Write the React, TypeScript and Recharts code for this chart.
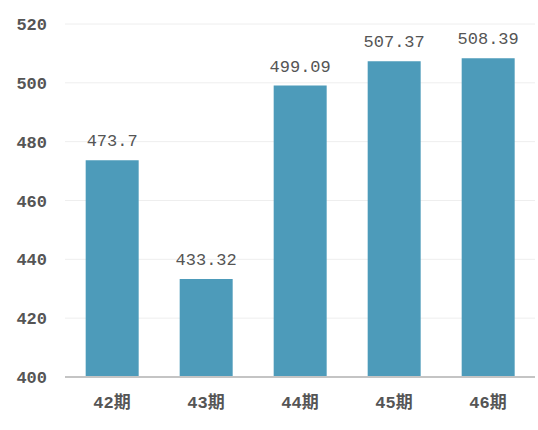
import React from "react";
import { BarChart, Bar, XAxis, YAxis, CartesianGrid, LabelList } from "recharts";

const categories = ["42期", "43期", "44期", "45期", "46期"];
const values = [473.7, 433.32, 499.09, 507.37, 508.39];
const yTicks = [400, 420, 440, 460, 480, 500, 520];

const data = categories.map((c, i) => ({ name: c, value: values[i] }));

const mono = "'Liberation Mono', 'Courier New', 'Noto Sans CJK SC', monospace";

export default function App() {
  return (
    <div style={{ position: "absolute", left: 0, top: 0, background: "#fff" }}>
      <BarChart
        width={538}
        height={430}
        data={data}
        margin={{ top: 24, right: 3, bottom: 0, left: 0 }}
        barCategoryGap="22%"
      >
        <CartesianGrid vertical={false} stroke="#eeeeee" />
        <XAxis
          dataKey="name"
          height={53}
          tickLine={false}
          tickSize={0}
          tickMargin={19}
          axisLine={{ stroke: "#c4c4c4", strokeWidth: 2 }}
          tick={{ fill: "#555", fontSize: 17, fontWeight: "bold", fontFamily: mono }}
        />
        <YAxis
          width={65}
          domain={[400, 520]}
          ticks={yTicks}
          axisLine={false}
          tickLine={false}
          tickSize={0}
          tickMargin={18}
          tick={{ fill: "#555", fontSize: 17, fontWeight: "bold", fontFamily: mono }}
        />
        <Bar dataKey="value" fill="#4d9bba" isAnimationActive={false}>
          <LabelList
            dataKey="value"
            position="top"
            offset={14}
            style={{ fill: "#555", fontSize: 17, fontFamily: mono }}
          />
        </Bar>
      </BarChart>
    </div>
  );
}
